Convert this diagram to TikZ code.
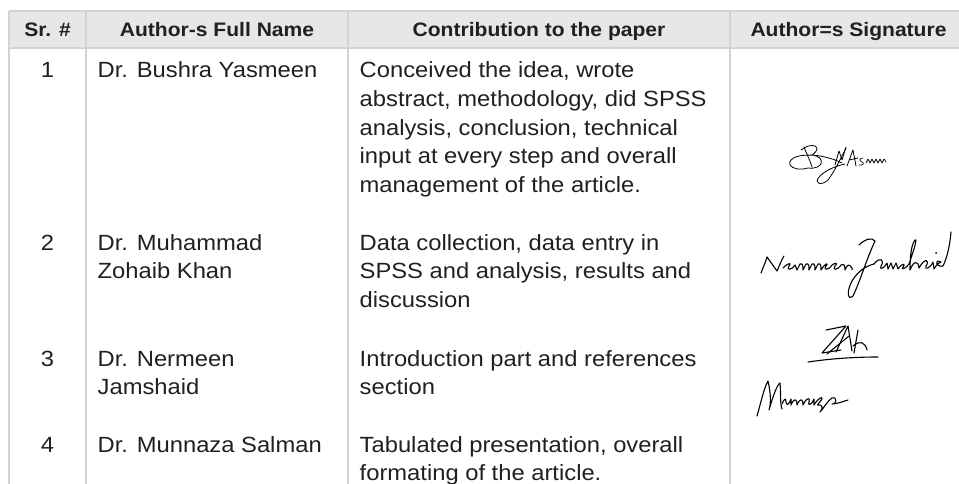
\documentclass[tikz,border=0pt]{standalone}
\usepackage{fontspec}
\setmainfont{Liberation Sans}[FakeStretch=1.08]
\definecolor{txt}{HTML}{231F20}
\definecolor{grid}{HTML}{D1D3D4}
\definecolor{head}{HTML}{E6E7E8}
\begin{document}
\begin{tikzpicture}[x=1pt,y=-1pt,
  hdr/.style={anchor=base,inner sep=0pt,text=txt,font=\fontsize{19.5}{24}\selectfont\bfseries},
  cell/.style={anchor=base west,inner sep=0pt,text=txt,align=left,font=\fontsize{22}{28.7}\selectfont},
  num/.style={anchor=base,inner sep=0pt,text=txt,font=\fontsize{22}{28.7}\selectfont},
  gridline/.style={draw=grid,line width=1.5pt},
  sig/.style={draw=black,line width=1.1pt,line cap=round,line join=round}]
\useasboundingbox (0,0) rectangle (959,484);
\fill[white] (0,0) rectangle (959,484);
% header band
\fill[head] (9,11) rectangle (959,48);
\draw[gridline] (9,11) -- (959,11);
\draw[gridline] (9,48) -- (959,48);
\foreach \xx in {9,86,348,730} {\draw[gridline] (\xx,11) -- (\xx,484);}
% header texts
\node[hdr] (h1) at (47.5,36.7) {Sr. \#};
\node[hdr] (h2) at (217,36.7) {Author-s Full Name};
\node[hdr] (h3) at (539,36.7) {Contribution to the paper};
\node[hdr] (h4) at (848.5,36.7) {Author=s Signature};
% (multi-line nodes: base anchor = baseline of last line)
% row 1
\node[num] (n1) at (47.5,77.7) {1};
\node[cell] (a1) at (97.5,77.7) {Dr. Bushra Yasmeen};
\node[cell] (c1) at (359.5,192.5) {Conceived the idea, wrote\\abstract, methodology, did SPSS\\analysis, conclusion, technical\\input at every step and overall\\management of the article.};
% row 2
\node[num] (n2) at (47.5,250) {2};
\node[cell] (a2) at (97.5,278.7) {Dr. Muhammad\\Zohaib Khan};
\node[cell] (c2) at (359.5,307.4) {Data collection, data entry in\\SPSS and analysis, results and\\discussion};
% row 3
\node[num] (n3) at (47.5,366) {3};
\node[cell] (a3) at (97.5,394.7) {Dr. Nermeen\\Jamshaid};
\node[cell] (c3) at (359.5,394.7) {Introduction part and references\\section};
% row 4
\node[num] (n4) at (47.5,452) {4};
\node[cell] (a4) at (97.5,452) {Dr. Munnaza Salman};
\node[cell] (c4) at (359.5,480.7) {Tabulated presentation, overall\\formating of the article.};
% signature 1
\draw[sig,line width=0.8pt] (804,147) .. controls (807,155) and (810,160) .. (812,167);
\draw[sig,line width=0.8pt] (801,150) .. controls (812,141) and (824,147) .. (812,155)
  .. controls (827,157) and (823,170) .. (808,168)
  .. controls (790,173) and (782,160) .. (799,156)
  .. controls (815,153) and (832,158) .. (842,163);
\draw[sig,line width=0.8pt] (846,148) .. controls (840,160) and (834,172) .. (828,180)
  .. controls (822,186) and (812,184) .. (820,176) .. controls (826,170) and (836,166) .. (845,164);
\draw[sig,line width=0.8pt] (835,165) -- (839,151) -- (842,160) -- (846,147);
\draw[sig,line width=0.8pt] (847,166) -- (853,150) -- (856,166) (849,160) -- (858,158);
\draw[sig,line width=0.7pt] (863,158) .. controls (859,158) and (859,161) .. (862,162) .. controls (865,163) and (863,166) .. (859,165);
\draw[sig,line width=0.7pt] (866,163) -- (868,159) -- (870,163) -- (872,159) -- (874,163) -- (876,159) -- (878,163) -- (880,159) -- (882,163) -- (884,159) -- (886,162);
% signature 2
\draw[sig] (761,273) .. controls (764,265) and (766,261) .. (767,257) -- (777,271)
  .. controls (780,264) and (782,259) .. (784,256);
\draw[sig] (783,268) .. controls (789,262) and (792,263) .. (789,266) .. controls (786,270) and (791,271) .. (795,265)
  -- (797,270) -- (800,264) .. controls (803,263) and (803,266) .. (803,270)
  -- (806,264) .. controls (809,263) and (809,266) .. (809,270)
  -- (812,264) .. controls (815,263) and (815,266) .. (815,270)
  -- (818,264) .. controls (821,263) and (821,266) .. (821,270)
  .. controls (826,262) and (829,263) .. (826,266) .. controls (823,270) and (828,271) .. (832,265)
  .. controls (836,262) and (838,263) .. (835,266) .. controls (832,270) and (837,271) .. (841,265)
  .. controls (844,263) and (845,266) .. (845,270) .. controls (847,265) and (849,263) .. (852,268);
\fill (852,269) circle (1pt);
\draw[sig] (859,245) .. controls (865,239) and (872,237) .. (875,241)
  .. controls (867,258) and (859,284) .. (853,296) .. controls (848,301) and (846,292) .. (852,281)
  .. controls (858,271) and (866,266) .. (874,264);
\draw[sig] (874,264) .. controls (880,256) and (885,260) .. (881,266) .. controls (879,270) and (884,269) .. (887,263)
  -- (888,269) -- (891,263) -- (893,269) -- (896,263) -- (898,269)
  .. controls (903,262) and (906,264) .. (903,267) .. controls (900,270) and (906,269) .. (909,264)
  .. controls (913,252) and (918,238) .. (915,240) .. controls (911,245) and (910,258) .. (910,270)
  .. controls (913,262) and (918,259) .. (919,268)
  .. controls (925,257) and (930,260) .. (926,266) .. controls (924,270) and (930,269) .. (933,262)
  -- (934,269) .. controls (937,264) and (939,262) .. (941,262)
  .. controls (934,258) and (936,268) .. (943,266) .. controls (947,258) and (950,245) .. (951,232);
\fill (936,253) circle (1pt);
% signature 3
\draw[sig] (826,330) -- (846,326) -- (822,353) -- (841,350);
\draw[sig] (827,354) -- (849,336);
\draw[sig] (836,352) -- (848,326) -- (852,351);
\draw[sig] (858,330) -- (854,353);
\draw[sig] (853,346) .. controls (860,340) and (865,342) .. (867,350);
\draw[sig] (808,362) .. controls (835,358) and (860,357) .. (878,357);
% signature 4
\draw[sig] (757,416) .. controls (761,402) and (764,388) .. (768,381)
  .. controls (771,394) and (771,404) .. (769,410)
  .. controls (773,396) and (777,385) .. (780,383)
  .. controls (781,394) and (780,404) .. (782,409);
\draw[sig] (782,404) .. controls (784,399) and (786,397) .. (786,402) .. controls (786,406) and (789,405) .. (791,399)
  -- (791,405) .. controls (794,398) and (797,398) .. (797,405)
  .. controls (800,398) and (803,398) .. (803,405)
  .. controls (807,396) and (811,398) .. (809,402) .. controls (807,406) and (812,405) .. (814,399)
  -- (814,405) .. controls (818,398) and (823,396) .. (822,399) .. controls (820,402) and (816,406) .. (818,405)
  .. controls (822,404) and (824,408) .. (820,412) .. controls (824,408) and (828,400) .. (832,398)
  .. controls (838,396) and (836,406) .. (832,404) .. controls (836,404) and (842,402) .. (848,400);
\end{tikzpicture}
\end{document}
